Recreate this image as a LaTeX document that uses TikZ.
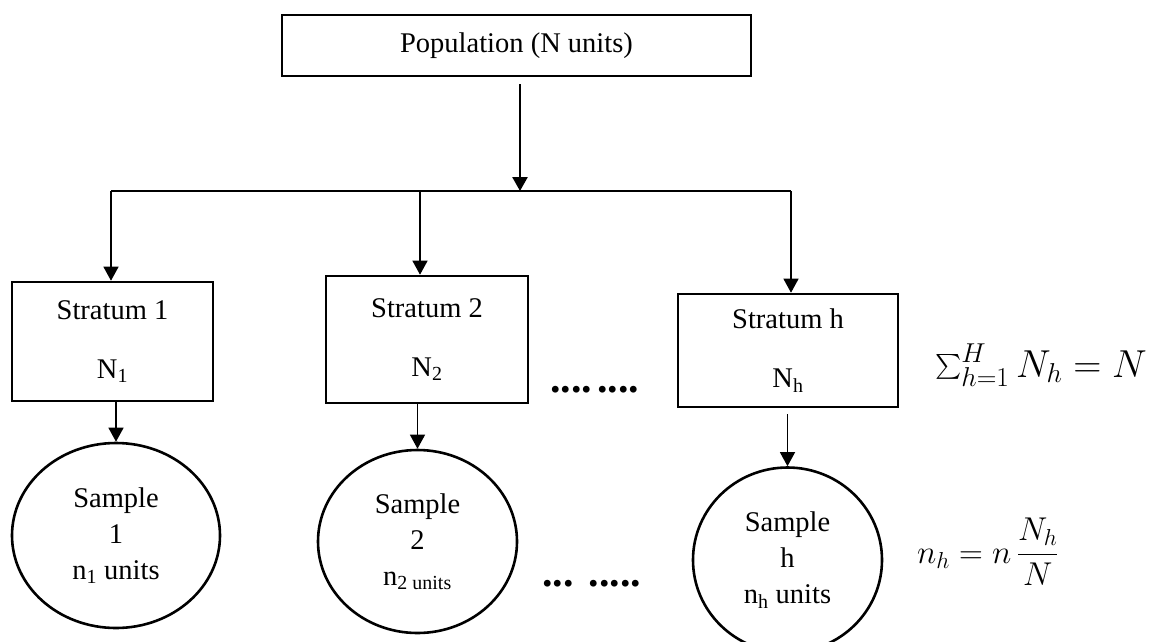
\RequirePackage{fix-cm}
\documentclass[tikz,border=0pt]{standalone}
\usepackage{exscale}
\usepackage{fontspec}
\setmainfont{Liberation Serif}
\usetikzlibrary{arrows.meta,shapes.geometric}

\begin{document}
\begin{tikzpicture}[x=1pt, y=-1pt,
    box/.style={rectangle, draw, line width=2.6pt, align=center, inner sep=0pt,
        font=\fontsize{28.5}{59}\selectfont},
    sample/.style={ellipse, draw, line width=2.6pt, align=center, inner sep=0pt,
        font=\fontsize{28.5}{36}\selectfont},
    arr/.style={line width=1.3pt, -{Triangle[width=15pt,length=14pt]}},
    dots/.style={anchor=base west, inner sep=0pt, font=\fontsize{42}{42}\selectfont\bfseries},
    formula/.style={inner sep=0pt}]
    \useasboundingbox (0,0) rectangle (1162,641);
    % Nodes

    \node[box, minimum width=469pt, minimum height=61pt] (pop) at (516.5,45.5) {Population (N units)};
    \node[box, minimum width=201pt, minimum height=119pt] (s1) at (112.5,341.5) {Stratum 1\\N\textsubscript{1}};
    \node[box, minimum width=202pt, minimum height=127pt] (s2) at (427,339.5) {Stratum 2\\N\textsubscript{2}};
    \node[box, minimum width=220pt, minimum height=113pt] (sh) at (788,350.5) {Stratum h\\N\textsubscript{h}};
    \node[sample, minimum width=208pt, minimum height=185pt] (c1) at (116,535.5) {Sample\\1\\n\textsubscript{1} units};
    \node[sample, minimum width=199pt, minimum height=183pt] (c2) at (417.5,541.5) {Sample\\2\\n\textsubscript{2 units}};
    \node[sample, minimum width=189pt, minimum height=185pt] (ch) at (787.5,560) {Sample\\h\\n\textsubscript{h} units};
    \node[dots] (dotsup) at (550,392) {....\hspace{5pt}....};
    \node[dots] (dotslow) at (542,586) {...\hspace{15pt}.....};
    \node[formula, anchor=base west, font=\fontsize{39}{39}\selectfont] (sumN) at (935,377) {$\sum_{h=1}^{H} N_h = N$};
    \node[formula, anchor=west, font=\fontsize{33}{33}\selectfont] (alloc) at (917,552) {$\displaystyle n_h = n\,\frac{N_h}{N}$};
    \coordinate (busl) at (111,191);
    \coordinate (bus2) at (420,191);
    \coordinate (busr) at (791,191);
    \coordinate (split) at (520,191);
    % Edges

    \draw[line width=2.6pt, -{Triangle[width=15pt,length=14pt]}, shorten <=7pt] (split |- pop.south) -- (split);
    \draw[line width=1.3pt] (busl) -- (busr);
    \draw[arr] (busl) -- (busl |- s1.north);
    \draw[arr] (bus2) -- (bus2 |- s2.north);
    \draw[arr] (busr) -- (busr |- sh.north);

    \draw[arr] (c1.north |- s1.south) -- (c1.north);
    \draw[arr] (c2.north |- s2.south) -- (c2.north);
    \draw[arr, shorten <=6pt] (ch.north |- sh.south) -- (ch.north);

\end{tikzpicture}
\end{document}
